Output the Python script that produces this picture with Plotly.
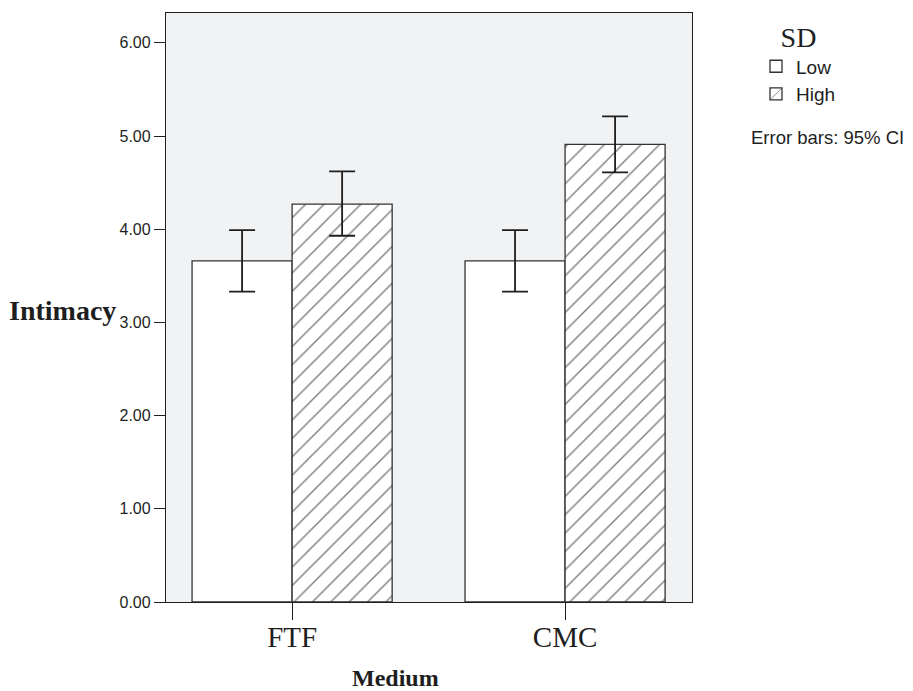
import plotly.graph_objects as go

categories = ["FTF", "CMC"]
low_means = [3.66, 3.66]
low_ci_upper = [3.99, 3.99]
low_ci_lower = [3.33, 3.33]
high_means = [4.27, 4.91]
high_ci_upper = [4.62, 5.21]
high_ci_lower = [3.93, 4.61]
y_ticks = [0, 1, 2, 3, 4, 5, 6]

serif = "Liberation Serif, Times New Roman, serif"
sans = "Liberation Sans, Arial, sans-serif"
ink = "#1e1e1e"

def err(means, up, lo):
    return dict(type="data", symmetric=False,
                array=[u - m for u, m in zip(up, means)],
                arrayminus=[m - l for m, l in zip(means, lo)],
                color=ink, thickness=1.8, width=13)

fig = go.Figure()
fig.add_trace(go.Bar(
    x=categories, y=low_means, name="Low",
    marker=dict(color="white", line=dict(color="#333333", width=1.3)),
    error_y=err(low_means, low_ci_upper, low_ci_lower),
))
fig.add_trace(go.Bar(
    x=categories, y=high_means, name="High",
    marker=dict(color="white", line=dict(color="#333333", width=1.3),
                pattern=dict(shape="/", size=13, solidity=0.11,
                             fgcolor="#000000", bgcolor="white")),
    error_y=err(high_means, high_ci_upper, high_ci_lower),
))

# page has an 8px body margin, so the figure is 8px smaller each way
fig.update_layout(
    width=905, height=683,
    margin=dict(l=158, r=221, t=4, b=89),
    paper_bgcolor="white", plot_bgcolor="#f1f2f4",
    barmode="group", bargap=0.267, bargroupgap=0,
    showlegend=True,
    legend=dict(
        x=(756 - 166) / 526, y=(602 - 11) / 590, xanchor="left", yanchor="top",
        title=dict(text="SD", side="top center",
                   font=dict(family=serif, size=28, color=ink)),
        font=dict(family=sans, size=19, color=ink),
        tracegroupgap=0, itemwidth=30, bgcolor="rgba(0,0,0,0)",
    ),
    xaxis=dict(
        range=[-0.462, 1.465], showgrid=False,
        showline=True, linecolor=ink, linewidth=1.3, mirror=True,
        ticks="outside", ticklen=17, tickcolor=ink, tickwidth=1.2,
        ticklabelstandoff=-8,
        tickfont=dict(family=serif, size=29, color=ink),
    ),
    yaxis=dict(
        range=[0, 6.32], showgrid=False, zeroline=False,
        showline=True, linecolor=ink, linewidth=1.3, mirror=True,
        tickvals=y_ticks, tickformat=".2f",
        ticks="outside", ticklen=11, tickcolor=ink, tickwidth=1.2,
        tickfont=dict(family=sans, size=16, color=ink),
    ),
    annotations=[
        dict(text="<b>Intimacy</b>", xref="paper", yref="paper",
             x=(7 - 166) / 526, y=(602 - 310) / 590, xanchor="left", yanchor="middle",
             showarrow=False, font=dict(family=serif, size=28, color=ink)),
        dict(text="<b>Medium</b>", xref="paper", yref="paper",
             x=(395 - 166) / 526, y=(602 - 678) / 590, xanchor="center", yanchor="middle",
             showarrow=False, font=dict(family=serif, size=24, color=ink)),
        dict(text="Error bars: 95% CI", xref="paper", yref="paper",
             x=(749 - 166) / 526, y=(602 - 137) / 590, xanchor="left", yanchor="middle",
             showarrow=False, font=dict(family=sans, size=18.5, color=ink)),
    ],
)
fig.write_html("out.html")
